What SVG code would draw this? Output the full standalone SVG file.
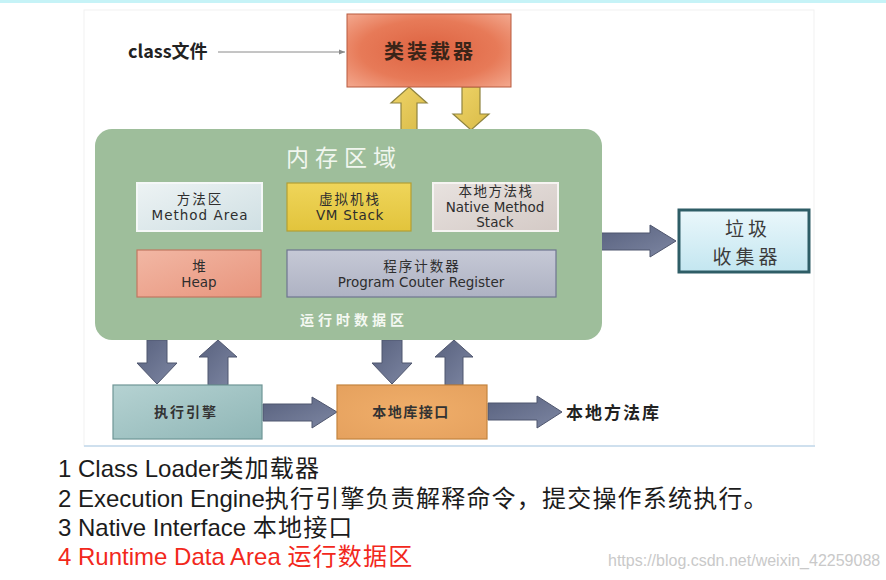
<svg xmlns="http://www.w3.org/2000/svg" width="886" height="580" viewBox="0 0 886 580">
<defs>
<style>
.cjk{font-family:"Noto Sans CJK SC","Liberation Sans",sans-serif;}
.lat{font-family:"DejaVu Sans","Noto Sans CJK SC",sans-serif;}
.b{font-weight:bold;}
.lbl{font-size:13.5px;fill:#2e2e2e;text-anchor:middle;}
.note{font-family:"Liberation Sans","Noto Sans CJK SC",sans-serif;font-size:24px;fill:#1c1c1c;}
.wide{letter-spacing:1.2px;}
.barrow{fill:url(#gArrow);stroke:#4f566e;stroke-width:1;}
.yarrow{fill:url(#gYellow);stroke:#8f8440;stroke-width:1.2;}
</style>
<radialGradient id="gLoader" cx="50%" cy="50%" r="70%">
<stop offset="0" stop-color="#dd6240"/>
<stop offset="0.6" stop-color="#e77a58"/>
<stop offset="1" stop-color="#f3a88e"/>
</radialGradient>
<linearGradient id="gArrow" x1="0" y1="0" x2="1" y2="1">
<stop offset="0" stop-color="#58617e"/>
<stop offset="1" stop-color="#7d86a2"/>
</linearGradient>
<linearGradient id="gYellow" x1="0" y1="0" x2="1" y2="1">
<stop offset="0" stop-color="#efd468"/>
<stop offset="1" stop-color="#d9bb48"/>
</linearGradient>
<linearGradient id="gMethod" x1="0" y1="0" x2="1" y2="1">
<stop offset="0" stop-color="#edf3f4"/>
<stop offset="1" stop-color="#cfdfe3"/>
</linearGradient>
<linearGradient id="gVM" x1="0" y1="0" x2="0" y2="1">
<stop offset="0" stop-color="#efd55a"/>
<stop offset="1" stop-color="#e2c43c"/>
</linearGradient>
<linearGradient id="gNative" x1="0" y1="0" x2="1" y2="1">
<stop offset="0" stop-color="#e8e2df"/>
<stop offset="1" stop-color="#d4cac6"/>
</linearGradient>
<linearGradient id="gHeap" x1="0" y1="0" x2="1" y2="1">
<stop offset="0" stop-color="#f2b7a4"/>
<stop offset="1" stop-color="#e8957d"/>
</linearGradient>
<linearGradient id="gPC" x1="0" y1="0" x2="0" y2="1">
<stop offset="0" stop-color="#c6c9d6"/>
<stop offset="1" stop-color="#aeb2c3"/>
</linearGradient>
<linearGradient id="gExec" x1="0" y1="0" x2="1" y2="1">
<stop offset="0" stop-color="#b5d2d2"/>
<stop offset="1" stop-color="#8fb6b6"/>
</linearGradient>
<radialGradient id="gNI" cx="50%" cy="50%" r="70%">
<stop offset="0" stop-color="#f0ae6a"/>
<stop offset="1" stop-color="#e5a15e"/>
</radialGradient>
<linearGradient id="gGC" x1="0" y1="0" x2="0" y2="1">
<stop offset="0" stop-color="#eaf7fb"/>
<stop offset="1" stop-color="#c3e6f0"/>
</linearGradient>
<marker id="mSmall" viewBox="0 0 10 10" refX="10" refY="5" markerWidth="6" markerHeight="6" orient="auto">
<path d="M0,1 L10,5 L0,9 z" fill="#8a8a8a"/>
</marker>
</defs>

<rect x="0" y="0" width="886" height="580" fill="#ffffff"/>
<rect x="0" y="0" width="886" height="3" fill="#c6f3f7"/>
<rect x="84" y="10" width="730" height="436" fill="#ffffff" stroke="#f1f1f1" stroke-width="1"/>
<line x1="84" y1="446" x2="815" y2="446" stroke="#cfe0ee" stroke-width="2"/>

<g id="connectors">
<line x1="218" y1="52" x2="345" y2="52" stroke="#8a8a8a" stroke-width="1" marker-end="url(#mSmall)"/>
<polygon class="yarrow" points="409,87 427,103 417,103 417,130 401,130 401,103 391,103"/>
<polygon class="yarrow" points="462,87 480,87 480,114 489,114 471,130 453,114 462,114"/>
<polygon class="barrow" points="601,233 650,233 650,225 676,241 650,257 650,250 601,250"/>
<polygon class="barrow" points="147,340 167,340 167,363 177,363 157,384 137,363 147,363"/>
<polygon class="barrow" points="218,340 237,357 228,357 228,385 208,385 208,357 199,357"/>
<polygon class="barrow" points="382,340 402,340 402,363 412,363 392,384 372,363 382,363"/>
<polygon class="barrow" points="454,340 473,357 463,357 463,385 445,385 445,357 435,357"/>
<polygon class="barrow" points="263,404 312,404 312,397 337,412 312,428 312,421 263,421"/>
<polygon class="barrow" points="488,403 537,403 537,396 562,412 537,428 537,420 488,420"/>
</g>

<g id="class-file">
<text x="128" y="58" class="cjk b" font-size="18" fill="#222">class文件</text>
</g>

<g id="class-loader">
<rect x="347" y="14" width="164" height="73" fill="url(#gLoader)" stroke="#b85a3e" stroke-width="1"/>
<text x="430" y="59" class="cjk b" font-size="20" letter-spacing="3" text-anchor="middle" fill="#3a2418">类装载器</text>
</g>

<g id="runtime-area">
<rect x="95" y="129" width="507" height="211" rx="17" ry="17" fill="#9ebe9b"/>
<text x="344" y="166" class="cjk" font-size="23" letter-spacing="6" text-anchor="middle" fill="#f1f6ef">内存区域</text>
<text x="354" y="325" class="cjk b" font-size="14" letter-spacing="4" text-anchor="middle" fill="#f4f8f2">运行时数据区</text>
</g>

<g id="method-area">
<rect x="137" y="183" width="125" height="48" fill="url(#gMethod)" stroke="#f5f8f8" stroke-width="2"/>
<text x="200" y="204" class="cjk lbl" letter-spacing="2">方法区</text>
<text x="200" y="220" class="lat lbl" letter-spacing="1">Method Area</text>
</g>

<g id="vm-stack">
<rect x="287" y="183" width="124" height="48" fill="url(#gVM)" stroke="#b39f34" stroke-width="1.2"/>
<text x="350" y="204" class="cjk lbl" letter-spacing="2">虚拟机栈</text>
<text x="350" y="220" class="lat lbl" letter-spacing="0.7">VM Stack</text>
</g>

<g id="native-stack">
<rect x="433" y="183" width="125" height="48" fill="url(#gNative)" stroke="#f6f4f2" stroke-width="2"/>
<text x="496" y="196" class="cjk lbl" letter-spacing="1.5">本地方法栈</text>
<text x="495" y="212" class="lat lbl" font-size="13">Native Method</text>
<text x="495" y="227" class="lat lbl" font-size="13">Stack</text>
</g>

<g id="heap">
<rect x="137" y="250" width="124" height="47" fill="url(#gHeap)" stroke="#c27761" stroke-width="1.2"/>
<text x="199" y="271" class="cjk lbl">堆</text>
<text x="199" y="287" class="lat lbl">Heap</text>
</g>

<g id="pc-register">
<rect x="287" y="250" width="269" height="47" fill="url(#gPC)" stroke="#6e7590" stroke-width="1.2"/>
<text x="422" y="271" class="cjk lbl" letter-spacing="2">程序计数器</text>
<text x="421" y="287" class="lat lbl">Program Couter Register</text>
</g>

<g id="gc">
<rect x="679" y="210" width="130" height="62" fill="url(#gGC)" stroke="#2e5d66" stroke-width="3"/>
<text x="748" y="236" class="cjk" font-size="19" letter-spacing="4" text-anchor="middle" fill="#3b3b3b">垃圾</text>
<text x="747" y="264" class="cjk" font-size="19" letter-spacing="4" text-anchor="middle" fill="#3b3b3b">收集器</text>
</g>

<g id="exec-engine">
<rect x="113" y="385" width="149" height="54" fill="url(#gExec)" stroke="#6f9696" stroke-width="1.2"/>
<text x="186" y="417" class="cjk b" font-size="14" letter-spacing="2" text-anchor="middle" fill="#333">执行引擎</text>
</g>

<g id="native-interface">
<rect x="337" y="385" width="150" height="54" fill="url(#gNI)" stroke="#c4843e" stroke-width="1.2"/>
<text x="411" y="417" class="cjk b" font-size="14" letter-spacing="1.5" text-anchor="middle" fill="#333">本地库接口</text>
</g>

<g id="native-lib">
<text x="566" y="419" class="cjk b" font-size="17" letter-spacing="2" fill="#222">本地方法库</text>
</g>

<g id="notes">
<text x="58" y="477" class="note">1 Class Loader<tspan class="wide">类加载器</tspan></text>
<text x="58" y="507" class="note">2 Execution Engine<tspan class="wide">执行引擎负责解释命令，提交操作系统执行。</tspan></text>
<text x="58" y="536" class="note">3 Native Interface <tspan class="wide">本地接口</tspan></text>
<text x="58" y="565" class="note" style="fill:#f2281c">4 Runtime Data Area <tspan class="wide">运行数据区</tspan></text>
<text x="608" y="566" font-family="Liberation Sans, sans-serif" font-size="16" fill="#c9c9c9">https://blog.csdn.net/weixin_42259088</text>
</g>
</svg>
